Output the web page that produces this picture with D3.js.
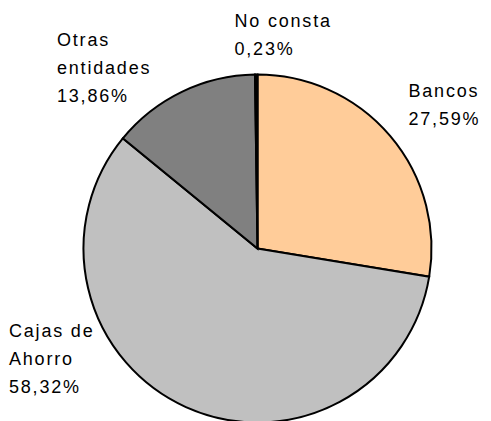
<!DOCTYPE html>
<html>
<head>
<meta charset="utf-8">
<script src="https://cdn.jsdelivr.net/npm/d3@7"></script>
<style>
  html, body { margin: 0; padding: 0; background: #fff; }
  svg { display: block; }
  text { font-family: "Liberation Sans", Arial, sans-serif; font-size: 18px; letter-spacing: 1.8px; fill: #000; }
</style>
</head>
<body>
<svg id="chart" width="491" height="421"></svg>
<script>
const categories = ["Bancos", "Cajas de Ahorro", "Otras entidades", "No consta"];
const values = [27.59, 58.32, 13.86, 0.23];
const colors = ["#FFCC99", "#C0C0C0", "#808080", "#000000"];
const labelLines = [["Bancos", "27,59%"], ["Cajas de", "Ahorro", "58,32%"], ["Otras", "entidades", "13,86%"], ["No consta", "0,23%"]];

const width = 491, height = 421;
const cx = 257.5, cy = 248.5, radius = 174;

const svg = d3.select("#chart");
const g = svg.append("g").attr("transform", `translate(${cx},${cy})`);

const data = categories.map((c, i) => ({ name: c, value: values[i], color: colors[i], lines: labelLines[i] }));

const pie = d3.pie().sort(null).value(d => d.value).startAngle(0).endAngle(2 * Math.PI);
const arc = d3.arc().innerRadius(0).outerRadius(radius);

g.selectAll("path.slice")
  .data(pie(data))
  .join("path")
  .attr("class", "slice")
  .attr("d", arc)
  .attr("fill", d => d.data.color)
  .attr("stroke", "#000")
  .attr("stroke-width", 2)
  .attr("stroke-linejoin", "miter");

// label anchors (top-left baseline of first line), relative to page
const labelPos = [[408.5, 96.5], [9, 337], [57, 46], [234.5, 27]];
const lineH = 28;

data.forEach((d, i) => {
  const t = svg.append("text")
    .attr("x", labelPos[i][0])
    .attr("y", labelPos[i][1]);
  d.lines.forEach((ln, j) => {
    t.append("tspan")
      .attr("x", labelPos[i][0])
      .attr("y", labelPos[i][1] + j * lineH)
      .text(ln);
  });
});
</script>
</body>
</html>
